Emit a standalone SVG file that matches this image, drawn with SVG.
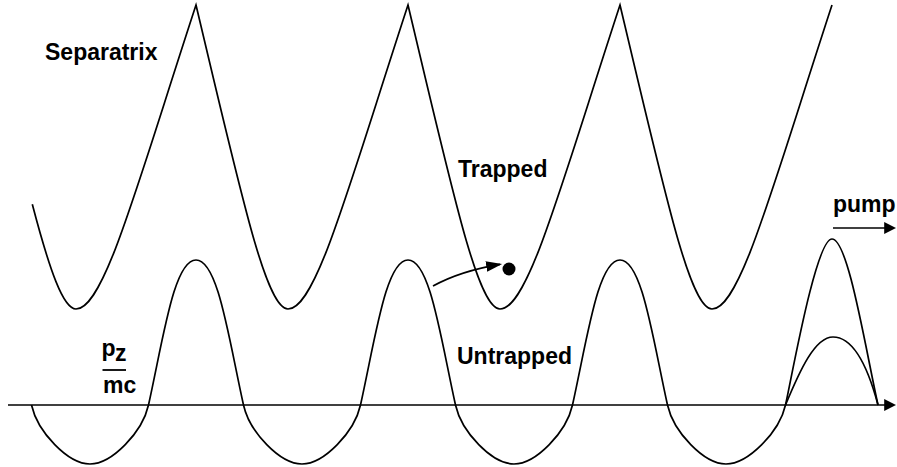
<svg xmlns="http://www.w3.org/2000/svg" width="897" height="467" viewBox="0 0 897 467">
<style>
.c{fill:none;stroke:#000;stroke-width:1.7}
.t{font-family:"Liberation Sans",Arial,Helvetica,sans-serif;font-weight:bold;font-size:23px;fill:#000}
</style>
<defs>
<marker id="ah" markerUnits="userSpaceOnUse" markerWidth="12" markerHeight="12" viewBox="0 0 11 11" refX="9" refY="5.5" orient="auto"><path d="M0,0 L11,5.5 L0,11 z" fill="#000"/></marker>
<marker id="ah2" markerUnits="userSpaceOnUse" markerWidth="16" markerHeight="12" viewBox="0 0 15 10" refX="13" refY="5" orient="auto"><path d="M0,0 L15,5 L0,10 z" fill="#000"/></marker>
</defs>
<rect width="897" height="467" fill="#fff"/>
<g id="separatrix">
<path class="c" d="M32.3,204.3 C49.95,271.6 63.46,309 76,309 C104,309 136,188 196,5 C241,194 266,309 288,309 C316,309 348,188 408,5 C453,194 478,309 500,309 C528,309 560,188 620,5 C665,194 690,309 712,309 C740,309 772,188 832,5"/>
</g>
<g id="orbit">
<path class="c" d="M31.5,405 C37.5,432 68,464 90,464 C112,464 142.5,432 148.5,405 C163.5,337.5 174,260 196,260 C218,260 228.5,337.5 243.5,405 C249.5,432 280,464 302,464 C324,464 354.5,432 360.5,405 C375.5,337.5 386,260 408,260 C430,260 440.5,337.5 455.5,405 C461.5,432 492,464 514,464 C536,464 566.5,432 572.5,405 C587.5,337.5 598,260 620,260 C642,260 652.5,337.5 667.5,405 C673.5,432 704,464 726,464 C748,464 779.5,432 785.5,405 C792,376 816,239 832,239 C848,239 865,346 878,405"/>
<path class="c" d="M785.5,405 C800,370 815,337 833,337 C856,337 870,375 878,405"/>
</g>
<g id="connectors">
<line class="c" x1="8" y1="405" x2="894" y2="405" marker-end="url(#ah)"/>
<line class="c" x1="833" y1="228" x2="894" y2="228" marker-end="url(#ah)"/>
<path class="c" d="M433,286 Q460,271 500,264.3" marker-end="url(#ah2)"/>
</g>
<g id="particle">
<circle cx="509" cy="269" r="6.5" fill="#000"/>
</g>
<g id="labels">
<text class="t" x="45" y="60">Separatrix</text>
<text class="t" x="458" y="177">Trapped</text>
<text class="t" x="457" y="364">Untrapped</text>
<text class="t" x="833" y="212">pump</text>
<text class="t" x="101.5" y="356">p</text>
<text class="t" x="115" y="361">z</text>
<line x1="102.5" y1="370" x2="126" y2="370" stroke="#000" stroke-width="1.8"/>
<text class="t" x="103" y="393">mc</text>
</g>
</svg>
